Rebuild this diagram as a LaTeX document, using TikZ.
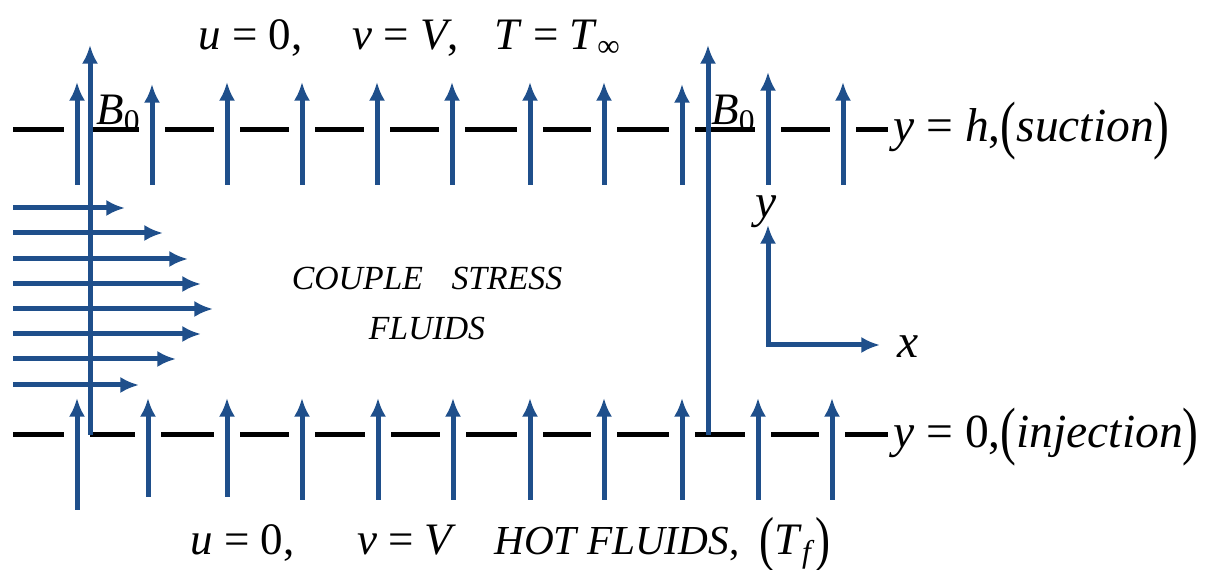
\documentclass[tikz,border=0pt]{standalone}
\usepackage{fontspec}
\setmainfont{Liberation Serif}
\usetikzlibrary{arrows.meta}
\definecolor{flowblue}{RGB}{31,79,139}
\newcommand{\openpar}{\raisebox{-0.1em}{\scalebox{1}[1.35]{(}}}
\newcommand{\closepar}{\raisebox{-0.1em}{\scalebox{1}[1.35]{)}}}

\begin{document}
\begin{tikzpicture}[
  x=0.4pt, y=-0.4pt,
  wall/.style ={draw=black, line width=2pt},
  vec/.style  ={draw=flowblue, line width=2pt, -{Latex[length=7.5pt,width=6.5pt]}},
  axes/.style ={draw=flowblue, line width=2pt,
                {Latex[length=7.5pt,width=6.5pt]}-{Latex[length=7.5pt,width=6.5pt]}},
  lbl/.style  ={inner sep=0pt, font=\fontsize{18}{20}\selectfont},
  side/.style ={inner sep=0pt, font=\fontsize{19}{20}\selectfont},
  txt/.style  ={inner sep=0pt, align=center, font=\fontsize{13.5}{20}\selectfont\itshape}
]
\useasboundingbox (0,0) rectangle (1214,570);
% ---- Plates (dashed walls) -------------------------------------------------
\foreach \a/\b in {13/64, 90/139, 165/214, 240/289, 315/364, 390/439,
                   465/517, 543/591, 617/669, 695/755, 781/830, 856/888}
  \draw[wall] (\a,130) -- (\b,130);
\foreach \a/\b in {13/64, 90/135, 161/214, 240/289, 315/365, 391/440,
                   466/517, 543/591, 617/669, 695/745, 771/819, 845/888}
  \draw[wall] (\a,435) -- (\b,435);
% ---- Suction / injection velocity ------------------------------------------
\foreach \x/\t in {77/82, 152/84, 227/82, 302/82, 377/82, 452/82,
                   530/82, 604/82, 682/84, 768/72, 843/82}
  \draw[vec] (\x,185) -- (\x,\t);
\foreach \x/\b in {77/510, 148/497, 227/497, 302/500, 378/500, 453/500,
                   530/500, 604/500, 682/500, 758/500, 832/500}
  \draw[vec] (\x,\b) -- (\x,398);
% ---- Magnetic field B0 -----------------------------------------------------
\draw[vec] (90,435) -- (90,45);
\draw[vec] (708,435) -- (708,45);
\node[lbl, anchor=base west] (bzeroa) at (96,125) {\textit{B}\textsubscript{0}};
\node[lbl, anchor=base west] (bzerob) at (711,125) {\textit{B}\textsubscript{0}};
% ---- Velocity profile ------------------------------------------------------
\foreach \y/\t in {208/125, 233/163, 259/188, 284/201, 309/213,
                   334/201, 359/176, 385/139}
  \draw[vec] (13,\y) -- (\t,\y);
% ---- Axes ------------------------------------------------------------------
\coordinate (origin) at (768,345);
\draw[axes] (768,225) -- (origin) -- (880,345);
\node[lbl, font=\fontsize{19}{20}\selectfont\itshape] (ylab) at (766,212) {y};
\node[lbl, font=\fontsize{19}{20}\selectfont\itshape] (xlab) at (908,347) {x};
% ---- Labels ----------------------------------------------------------------
\node[lbl, anchor=base west] (topbc) at (198,50)
  {\textit{u} = 0,\hspace{20pt}\textit{v} = \textit{V},\hspace{14pt}\textit{T} = \textit{T}\textsubscript{∞}};
\node[lbl, anchor=base west] (botbc) at (190,555)
  {\textit{u} = 0,\hspace{25pt}\textit{v} = \textit{V}\hspace{15pt}{\fontsize{16.5}{20}\selectfont\textit{HOT FLUIDS},}\hspace{8pt}\openpar\textit{T}\textsubscript{\textit{f}}\closepar};
\node[txt] (fluid) at (427,303) {COUPLE\hspace{8pt} STRESS\\FLUIDS};
\node[side, anchor=base west] (upper) at (893,142)
  {\textit{y} = \textit{h},\openpar\textit{suction}\closepar};
\node[side, anchor=base west] (lower) at (893,448)
  {\textit{y} = 0,\openpar\textit{injection}\closepar};
\end{tikzpicture}
\end{document}
